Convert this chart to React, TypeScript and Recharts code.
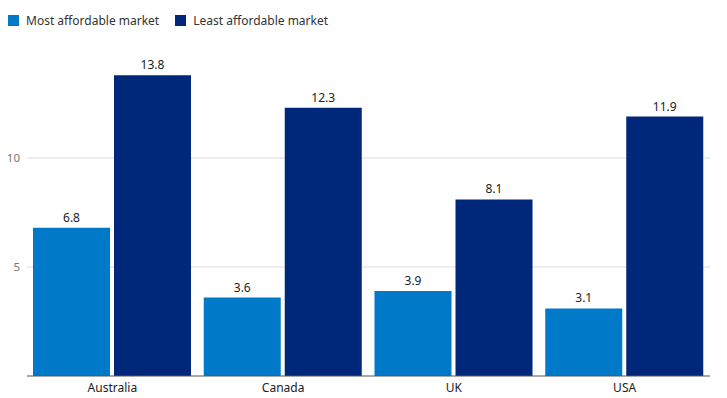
import { BarChart, Bar, XAxis, YAxis, CartesianGrid, LabelList } from 'recharts';

const countries = ['Australia', 'Canada', 'UK', 'USA'];
const mostAffordable = [6.8, 3.6, 3.9, 3.1];
const leastAffordable = [13.8, 12.3, 8.1, 11.9];
const yTicks = [5, 10];

const data = countries.map((country, i) => ({
  country,
  most: mostAffordable[i],
  least: leastAffordable[i],
}));

const FONT = '"Noto Sans", sans-serif';
const LIGHT = '#0079c8';
const DARK = '#00287a';

const legendItems = [
  { label: 'Most affordable market', color: LIGHT },
  { label: 'Least affordable market', color: DARK },
];

export default function App() {
  return (
    <div style={{ width: 719, fontFamily: FONT, position: 'relative' }}>
      <div style={{ display: 'flex', alignItems: 'center', height: 22, paddingTop: 1 }}>
        {legendItems.map((item) => (
          <div key={item.label} style={{ display: 'flex', alignItems: 'center', marginRight: 16 }}>
            <span style={{ width: 11, height: 11, background: item.color, display: 'inline-block', marginRight: 7 }} />
            <span style={{ fontSize: 12, color: '#333' }}>{item.label}</span>
          </div>
        ))}
      </div>
      <BarChart
        width={719}
        height={367}
        data={data}
        margin={{ top: 18, right: 17, bottom: 0, left: 0 }}
        barCategoryGap={6}
        barGap={4}
        style={{ overflow: 'visible' }}
      >
        <CartesianGrid vertical={false} stroke="#dcdcdc" syncWithTicks />
        <XAxis
          dataKey="country"
          height={22}
          tickLine={false}
          axisLine={{ stroke: '#555' }}
          tick={{ fontSize: 12, fill: '#222', fontFamily: FONT }}
          tickMargin={1}
        />
        <YAxis
          width={19}
          domain={[0, 15]}
          ticks={yTicks}
          tickLine={false}
          axisLine={false}
          tickSize={0}
          tickMargin={7}
          tick={{ fontSize: 11.5, fill: '#777', fontFamily: FONT }}
        />
        <Bar dataKey="most" fill={LIGHT} isAnimationActive={false}>
          <LabelList dataKey="most" position="top" offset={6} style={{ fontSize: 12, fill: '#222', fontFamily: FONT }} />
        </Bar>
        <Bar dataKey="least" fill={DARK} isAnimationActive={false}>
          <LabelList dataKey="least" position="top" offset={6} style={{ fontSize: 12, fill: '#222', fontFamily: FONT }} />
        </Bar>
      </BarChart>
    </div>
  );
}
